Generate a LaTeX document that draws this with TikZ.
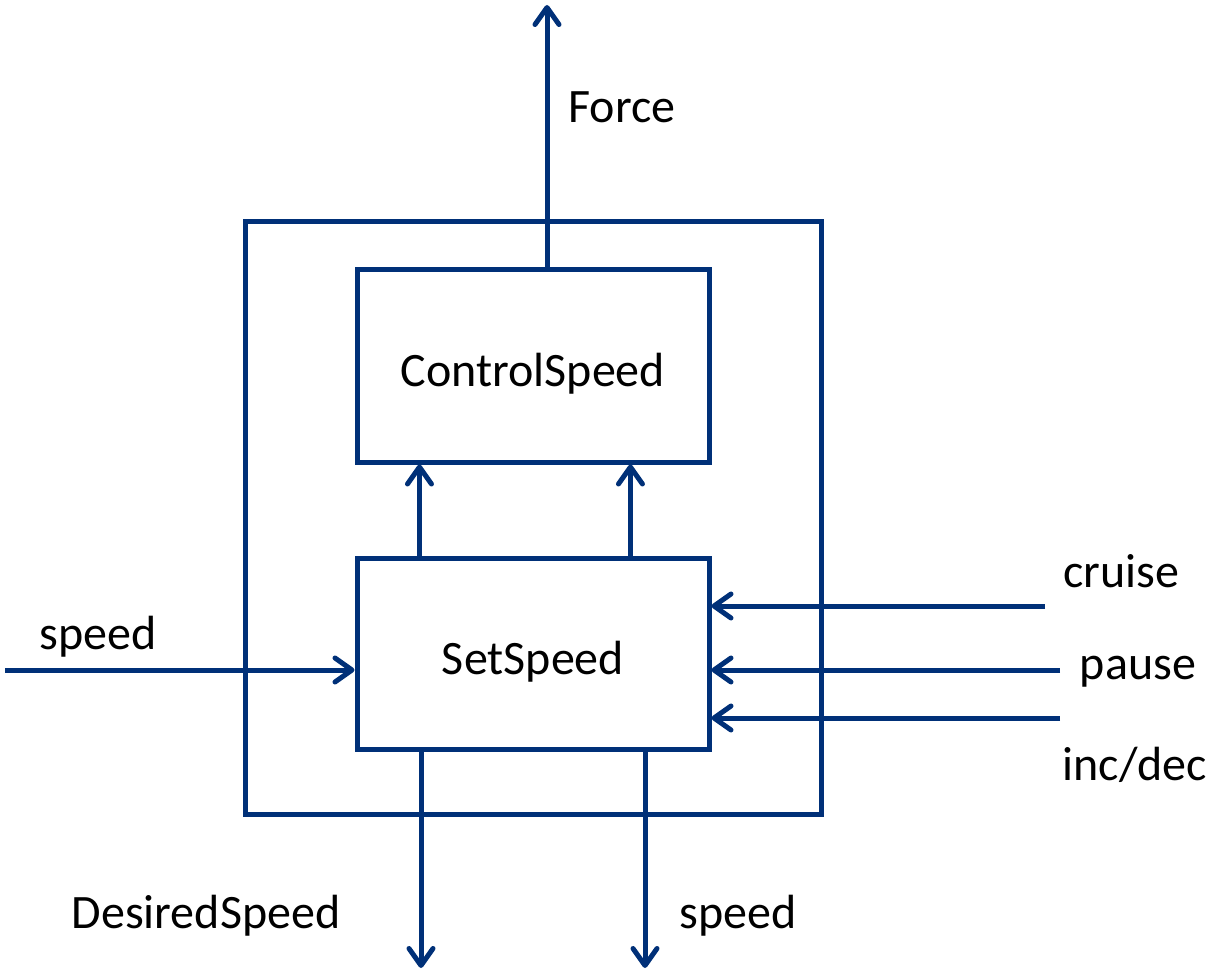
\documentclass[tikz,border=0pt]{standalone}
\usepackage{fontspec}
\setmainfont{Carlito}
\usetikzlibrary{arrows.meta, positioning, calc}

\definecolor{linkblue}{RGB}{0,48,120}

\tikzset{
    block/.style={draw=linkblue, line width=5pt, rectangle, minimum width=352pt, minimum height=192pt, inner sep=0pt},
    sig/.style={draw=linkblue, line width=5pt, -{Straight Barb[length=17pt, width=24pt, round]}},
    lbl/.style={inner sep=0pt, font=\fontsize{48}{58}\selectfont}
}

\begin{document}
\begin{tikzpicture}[x=1pt, y=-1pt]
    \useasboundingbox (0,0) rectangle (1211,976);

    % Component and its two parts
    \node[block, minimum width=576pt, minimum height=592pt] (cruisectl) at (533,518) {};
    \node[block] (ctrl) at (533,366) {};
    \node[block, minimum height=191pt] (set) at (533,653.5) {};
    \node[lbl] at ($(ctrl.center)+(0,8)$) {ControlSpeed};
    \node[lbl] at ($(set.center)+(0,8)$) {SetSpeed};

    % Free ends of the signals
    \coordinate (forceout) at (547,5);
    \coordinate (speedin) at (5,670);
    \coordinate (cruisein) at (1045,606);
    \coordinate (pausein) at (1060,670);
    \coordinate (incin) at (1060,718);
    \coordinate (desout) at (421,968);
    \coordinate (speedout) at (645,968);

    % Signals
    \draw[sig] (ctrl.north -| forceout) -- (forceout);
    \draw[sig] ($(set.north west)!0.182!(set.north east)$) -- ($(ctrl.south west)!0.182!(ctrl.south east)$);
    \draw[sig] ($(set.north west)!0.773!(set.north east)$) -- ($(ctrl.south west)!0.773!(ctrl.south east)$);
    \draw[sig] (speedin) -- (speedin -| set.west);
    \draw[sig] (cruisein) -- (cruisein -| set.east);
    \draw[sig] (pausein) -- (pausein -| set.east);
    \draw[sig] (incin) -- (incin -| set.east);
    \draw[sig] (set.south -| desout) -- (desout);
    \draw[sig] (set.south -| speedout) -- (speedout);

    % Signal names
    \node[lbl] (force) at (622,107) {Force};
    \node[lbl] (speedlbl) at (98,637) {speed};
    \node[lbl] (cruiselbl) at (1121,571) {cruise};
    \node[lbl] (pauselbl) at (1138,672) {pause};
    \node[lbl] (inclbl) at (1135,765) {inc/dec};
    \node[lbl] (deslbl) at (206,916) {DesiredSpeed};
    \node[lbl] (speedoutlbl) at (738,916) {speed};
\end{tikzpicture}
\end{document}
